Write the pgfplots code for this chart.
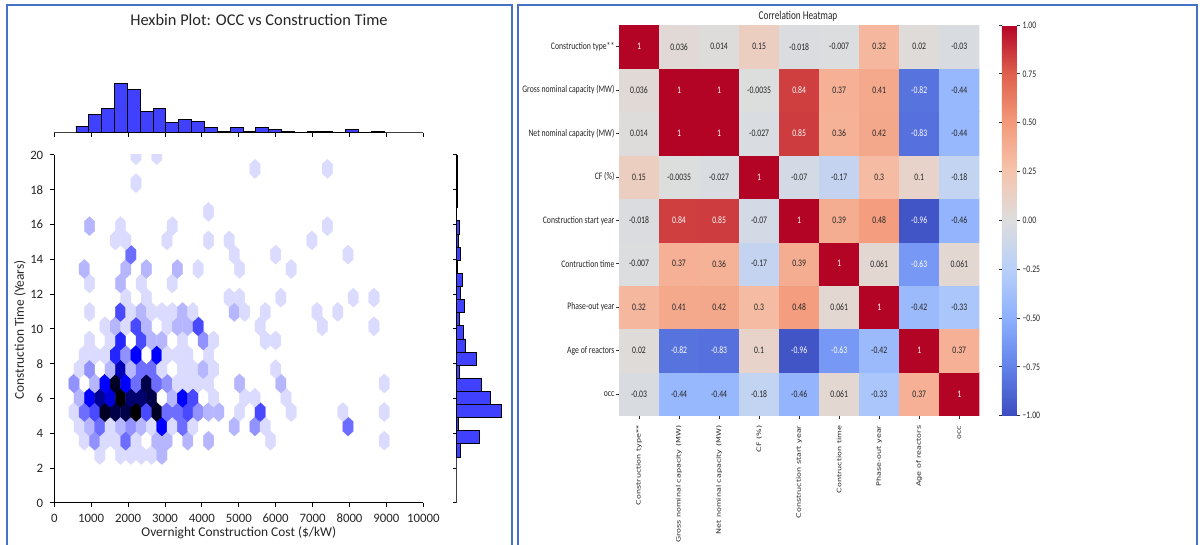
\documentclass[border=0pt]{standalone}
\usepackage{pgfplots}
\pgfplotsset{compat=1.18}
\usepackage{pgfplotstable}
\usepackage{fontspec}
\setmainfont{Carlito}
\newfontfamily\dejavu{DejaVu Sans}
\usepackage{graphicx}
\definecolor{panelblue}{RGB}{68,114,196}
\definecolor{histblue}{RGB}{64,64,255}
\definecolor{annot}{RGB}{38,38,38}
\newcommand\fs[1]{\fontsize{#1}{#1}\selectfont}
\newcommand\sq[1]{\scalebox{0.77}[1]{#1}}
\newcommand\sv[1]{\scalebox{1}[0.76]{#1}}
\pgfdeclareplotmark{hexm}{%
 \pgfpathmoveto{\pgfqpoint{0pt}{4.77pt}}%
 \pgfpathlineto{\pgfqpoint{2.59pt}{2.39pt}}%
 \pgfpathlineto{\pgfqpoint{2.59pt}{-2.39pt}}%
 \pgfpathlineto{\pgfqpoint{0pt}{-4.77pt}}%
 \pgfpathlineto{\pgfqpoint{-2.59pt}{-2.39pt}}%
 \pgfpathlineto{\pgfqpoint{-2.59pt}{2.39pt}}%
 \pgfpathclose
 \pgfusepathqfillstroke}

\pgfplotstableread{
x y c
1234 2.76 1
1794 2.76 1
2075 2.76 1
2355 2.76 1
2635 2.76 1
2915 2.76 2
813 3.58 1
1094 3.58 3
1374 3.58 1
1654 3.58 1
1935 3.58 4
2215 3.58 1
2775 3.58 2
3056 3.58 2
3616 3.58 2
4177 3.58 2
5859 3.58 1
8942 3.58 1
673 4.40 1
953 4.40 2
1234 4.40 4
1514 4.40 1
1794 4.40 2
2075 4.40 3
2355 4.40 2
2635 4.40 1
2915 4.40 7
3196 4.40 1
3476 4.40 4
3756 4.40 1
4878 4.40 2
5438 4.40 3
5718 4.40 1
7961 4.40 4
533 5.23 1
813 5.23 4
1094 5.23 5
1374 5.23 13
1654 5.23 12
1935 5.23 12
2215 5.23 14
2495 5.23 5
2775 5.23 13
3056 5.23 4
3336 5.23 4
3616 5.23 5
3897 5.23 3
4177 5.23 2
4457 5.23 2
5018 5.23 1
5578 5.23 5
6419 5.23 1
7821 5.23 1
8942 5.23 1
673 6.05 2
953 6.05 7
1234 6.05 10
1514 6.05 8
1794 6.05 14
2075 6.05 11
2355 6.05 11
2635 6.05 12
3196 6.05 2
3476 6.05 7
3756 6.05 5
4317 6.05 1
5158 6.05 1
5438 6.05 1
6279 6.05 1
533 6.87 3
1094 6.87 2
1374 6.87 7
1654 6.87 13
1935 6.87 7
2215 6.87 4
2495 6.87 12
2775 6.87 4
3056 6.87 3
3336 6.87 1
3616 6.87 1
3897 6.87 1
4177 6.87 1
5018 6.87 2
6139 6.87 2
8942 6.87 1
673 7.69 1
953 7.69 3
1514 7.69 2
1794 7.69 9
2075 7.69 2
2355 7.69 4
2635 7.69 4
2915 7.69 1
3476 7.69 1
3756 7.69 1
4037 7.69 2
4317 7.69 1
5999 7.69 1
813 8.51 1
1094 8.51 1
1374 8.51 1
1654 8.51 6
1935 8.51 3
2215 8.51 7
2775 8.51 7
3056 8.51 1
3336 8.51 1
3616 8.51 1
4177 8.51 1
953 9.34 1
1514 9.34 1
1794 9.34 6
2355 9.34 5
2635 9.34 2
2915 9.34 2
3476 9.34 1
4037 9.34 3
4317 9.34 1
5718 9.34 1
5999 9.34 1
1374 10.16 1
1654 10.16 2
1935 10.16 1
2215 10.16 5
2495 10.16 2
3056 10.16 1
3336 10.16 2
3616 10.16 2
3897 10.16 5
5578 10.16 1
7260 10.16 1
8662 10.16 1
953 10.98 1
1794 10.98 5
2075 10.98 1
2355 10.98 2
2635 10.98 1
2915 10.98 1
3196 10.98 1
3476 10.98 2
3756 10.98 1
4878 10.98 2
5158 10.98 1
5718 10.98 1
7120 10.98 1
7681 10.98 1
1935 11.80 1
2495 11.80 1
4738 11.80 1
5018 11.80 1
6139 11.80 1
8101 11.80 1
8662 11.80 1
953 12.62 1
1794 12.62 2
2355 12.62 1
3196 12.62 1
813 13.45 2
1935 13.45 2
2495 13.45 2
3336 13.45 2
3897 13.45 1
5018 13.45 1
6419 13.45 1
2075 14.27 4
4878 14.27 1
5999 14.27 1
7961 14.27 1
1654 15.09 1
1935 15.09 1
3056 15.09 1
4177 15.09 1
4738 15.09 1
6980 15.09 1
953 15.91 2
1794 15.91 1
3196 15.91 1
7400 15.91 1
4177 16.73 1
2215 18.38 1
5438 19.20 1
7400 19.20 1
2215 19.99 1
2775 19.99 1
}\hexdata

\pgfplotstableread{
x y c
0 0 -0.03
1 0 -0.44
2 0 -0.44
3 0 -0.18
4 0 -0.46
5 0 0.061
6 0 -0.33
7 0 0.37
8 0 1
0 1 0.02
1 1 -0.82
2 1 -0.83
3 1 0.1
4 1 -0.96
5 1 -0.63
6 1 -0.42
7 1 1
8 1 0.37
0 2 0.32
1 2 0.41
2 2 0.42
3 2 0.3
4 2 0.48
5 2 0.061
6 2 1
7 2 -0.42
8 2 -0.33
0 3 -0.007
1 3 0.37
2 3 0.36
3 3 -0.17
4 3 0.39
5 3 1
6 3 0.061
7 3 -0.63
8 3 0.061
0 4 -0.018
1 4 0.84
2 4 0.85
3 4 -0.07
4 4 1
5 4 0.39
6 4 0.48
7 4 -0.96
8 4 -0.46
0 5 0.15
1 5 -0.0035
2 5 -0.027
3 5 1
4 5 -0.07
5 5 -0.17
6 5 0.3
7 5 0.1
8 5 -0.18
0 6 0.014
1 6 1
2 6 1
3 6 -0.027
4 6 0.85
5 6 0.36
6 6 0.42
7 6 -0.83
8 6 -0.44
0 7 0.036
1 7 1
2 7 1
3 7 -0.0035
4 7 0.84
5 7 0.37
6 7 0.41
7 7 -0.82
8 7 -0.44
0 8 1
1 8 0.036
2 8 0.014
3 8 0.15
4 8 -0.018
5 8 -0.007
6 8 0.32
7 8 0.02
8 8 -0.03
}\heatdata

\pgfplotstableread{
x y t
0 8 1
1 7 1
2 7 1
4 7 0.84
7 7 -0.82
1 6 1
2 6 1
4 6 0.85
7 6 -0.83
3 5 1
1 4 0.84
2 4 0.85
4 4 1
7 4 -0.96
5 3 1
7 3 -0.63
6 2 1
1 1 -0.82
2 1 -0.83
4 1 -0.96
5 1 -0.63
7 1 1
8 0 1
}\whitelabels

\pgfplotstableread{
x y t
1 8 0.036
2 8 0.014
3 8 0.15
4 8 -0.018
5 8 -0.007
6 8 0.32
7 8 0.02
8 8 -0.03
0 7 0.036
3 7 -0.0035
5 7 0.37
6 7 0.41
8 7 -0.44
0 6 0.014
3 6 -0.027
5 6 0.36
6 6 0.42
8 6 -0.44
0 5 0.15
1 5 -0.0035
2 5 -0.027
4 5 -0.07
5 5 -0.17
6 5 0.3
7 5 0.1
8 5 -0.18
0 4 -0.018
3 4 -0.07
5 4 0.39
6 4 0.48
8 4 -0.46
0 3 -0.007
1 3 0.37
2 3 0.36
3 3 -0.17
4 3 0.39
6 3 0.061
8 3 0.061
0 2 0.32
1 2 0.41
2 2 0.42
3 2 0.3
4 2 0.48
5 2 0.061
7 2 -0.42
8 2 -0.33
0 1 0.02
3 1 0.1
6 1 -0.42
8 1 0.37
0 0 -0.03
1 0 -0.44
2 0 -0.44
3 0 -0.18
4 0 -0.46
5 0 0.061
6 0 -0.33
7 0 0.37
}\darklabels

\begin{document}
\begin{tikzpicture}
\path[use as bounding box, fill=white] (0,0) rectangle (600pt,272.5pt);
% panel borders
\draw[panelblue, line width=1pt] (3.25pt,-3pt) -- (3.25pt,270pt) -- (255.9pt,270pt) -- (255.9pt,-3pt);
\draw[panelblue, line width=1pt] (259pt,-3pt) -- (259pt,270pt) -- (598.5pt,270pt) -- (598.5pt,-3pt);

% ---------- hexbin joint axis
\begin{axis}[at={(27.15pt,21pt)}, anchor=south west, scale only axis,
  width=184.5pt, height=174pt,
  xmin=0, xmax=10000, ymin=0, ymax=20,
  axis lines*=left, axis line style={-, black, line width=0.5pt},
  tick align=outside, major tick length=2pt, tick style={black, line width=0.5pt},
  scaled x ticks=false, scaled y ticks=false,
  xtick={0,1000,...,10000},
  xticklabels={0,1000,2000,3000,4000,5000,6000,7000,8000,9000,10000},
  ytick={0,2,...,20},
  yticklabels={0,2,4,6,8,10,12,14,16,18,20},
  tick label style={font=\fs{6.4}, text=black!85},
  colormap={hexcm}{rgb255=(255,255,255) rgb255=(0,0,255) rgb255=(0,0,0)},
  point meta min=0, point meta max=14,
  clip marker paths=true]
\addplot[scatter, only marks, mark=hexm, scatter src=explicit,
  scatter/use mapped color={draw=mapped color, fill=mapped color},
  mark options={line width=0.15pt}] table[x=x, y=y, meta=c] {\hexdata};
\end{axis}

% ---------- top marginal histogram
\begin{axis}[at={(27.15pt,206.15pt)}, anchor=south west, scale only axis,
  width=184.5pt, height=29.6pt,
  xmin=0, xmax=10000, ymin=0, ymax=36,
  axis x line*=bottom, axis y line=none, axis line style={-, black!75, line width=0.5pt},
  tick align=outside, major tick length=2pt, tick style={black, line width=0.5pt},
  scaled x ticks=false,
  xtick={0,1000,...,10000}, xticklabels=\empty, clip=false]
\addplot[ybar interval, fill=histblue, draw=black, line width=0.45pt] coordinates {
(587,4) (935,11) (1283,15) (1632,30) (1980,26) (2328,13) (2676,15) (3024,6)
(3373,8) (3721,7) (4069,3) (4417,1) (4765,3) (5114,1) (5462,3) (5810,2)
(6158,1) (6506,0) (6855,0.5) (7203,1) (7551,0) (7899,2) (8247,0) (8596,1) (8944,0)};
\end{axis}

% ---------- right marginal histogram
\begin{axis}[at={(228.35pt,21pt)}, anchor=south west, scale only axis,
  width=27.5pt, height=174pt,
  xmin=0, xmax=66, ymin=0, ymax=20,
  axis y line*=left, axis x line=none, axis line style={-, black!75, line width=0.5pt},
  tick align=outside, major tick length=2pt, tick style={black, line width=0.5pt},
  ytick={0,2,...,20}, yticklabels=\empty, clip=false]
\addplot[xbar interval, fill=histblue, draw=black, line width=0.45pt] coordinates {
(4,2.640) (27,3.394) (2,4.148) (54,4.902) (40,5.656) (30,6.410) (3,7.164) (24,7.918)
(11,8.672) (8,9.426) (3,10.180) (9,10.934) (4,11.688) (7,12.442) (1,13.196) (4,13.950)
(2,14.704) (3,15.458) (0,16.212) (1,16.966) (1,17.720) (1,18.474) (1,19.228) (0,19.982)};
\end{axis}

\node[font=\fs{8.2}, text=black!85] at (129.5pt,262.5pt) {Hexbin Plot: OCC vs Construction Time};
\node[font=\fs{6.7}, text=black!85] at (119.4pt,6pt) {Overnight Construction Cost (\$/kW)};
\node[font=\fs{6.7}, text=black!85, rotate=90] at (10pt,107.5pt) {Construction Time (Years)};

% ---------- heatmap
\begin{axis}[at={(309.5pt,64.65pt)}, anchor=south west, scale only axis,
  width=180.15pt, height=195.35pt,
  xmin=-0.5, xmax=8.5, ymin=-0.5, ymax=8.5, enlargelimits=false,
  axis line style={draw=none},
  tick align=outside, major tick length=1.5pt, tick style={black!80, line width=0.4pt},
  xtick={0,...,8}, ytick={0,...,8}, xtick pos=bottom, ytick pos=left,
  xticklabels={
   \sv{Construction type**},
   \sv{Gross nominal capacity (MW)},
   \sv{Net nominal capacity (MW)},
   \sv{CF (\%)},
   \sv{Construction start year},
   \sv{Contruction time},
   \sv{Phase-out year},
   \sv{Age of reactors},
   \sv{occ}},
  xticklabel style={rotate=90, anchor=east, font=\dejavu\fs{4}, text=black!85},
  yticklabels={\sq{occ}, \sq{Age of reactors}, \sq{Phase-out year}, \sq{Contruction time},
   \sq{Construction start year}, \sq{CF (\%)}, \sq{Net nominal capacity (MW)},
   \sq{Gross nominal capacity (MW)}, \sq{Construction type**}},
  yticklabel style={font=\fs{5}, text=black!85, inner sep=0.6pt},
  colormap={coolwarm}{rgb255=(59,76,192) rgb255=(98,130,234) rgb255=(141,176,254)
    rgb255=(184,208,249) rgb255=(221,221,221) rgb255=(245,196,173) rgb255=(244,154,123)
    rgb255=(222,96,77) rgb255=(180,4,38)},
  point meta min=-1, point meta max=1,
  colorbar,
  colorbar style={at={(parent axis.north east)}, anchor=north west, xshift=2.7pt,
    scale only axis, width=7.5pt, height=195.35pt,
    axis line style={draw=none},
    ytick={-1,-0.75,-0.5,-0.25,0,0.25,0.5,0.75,1},
    yticklabels={\sq{−1.00},\sq{−0.75},\sq{−0.50},\sq{−0.25},\sq{0.00},\sq{0.25},\sq{0.50},\sq{0.75},\sq{1.00}},
    yticklabel style={font=\fs{5}, text=black!85, inner sep=1.2pt},
    tick align=outside, major tick length=1.5pt, tick style={black!80, line width=0.4pt}}]
\addplot[matrix plot*, mesh/cols=9, point meta=explicit] table[x=x, y=y, meta=c] {\heatdata};
\addplot[only marks, mark=none, point meta=explicit symbolic,
  nodes near coords={\sq{\pgfplotspointmeta}},
  nodes near coords style={anchor=center, font=\fs{5}, text=white, inner sep=0pt}]
  table[x=x, y=y, meta=t] {\whitelabels};
\addplot[only marks, mark=none, point meta=explicit symbolic,
  nodes near coords={\sq{\pgfplotspointmeta}},
  nodes near coords style={anchor=center, font=\fs{5}, text=annot, inner sep=0pt}]
  table[x=x, y=y, meta=t] {\darklabels};
\end{axis}
\node[font=\fs{6}, text=black!85] at (399pt,264.5pt) {\sq{Correlation Heatmap}};
\end{tikzpicture}
\end{document}
